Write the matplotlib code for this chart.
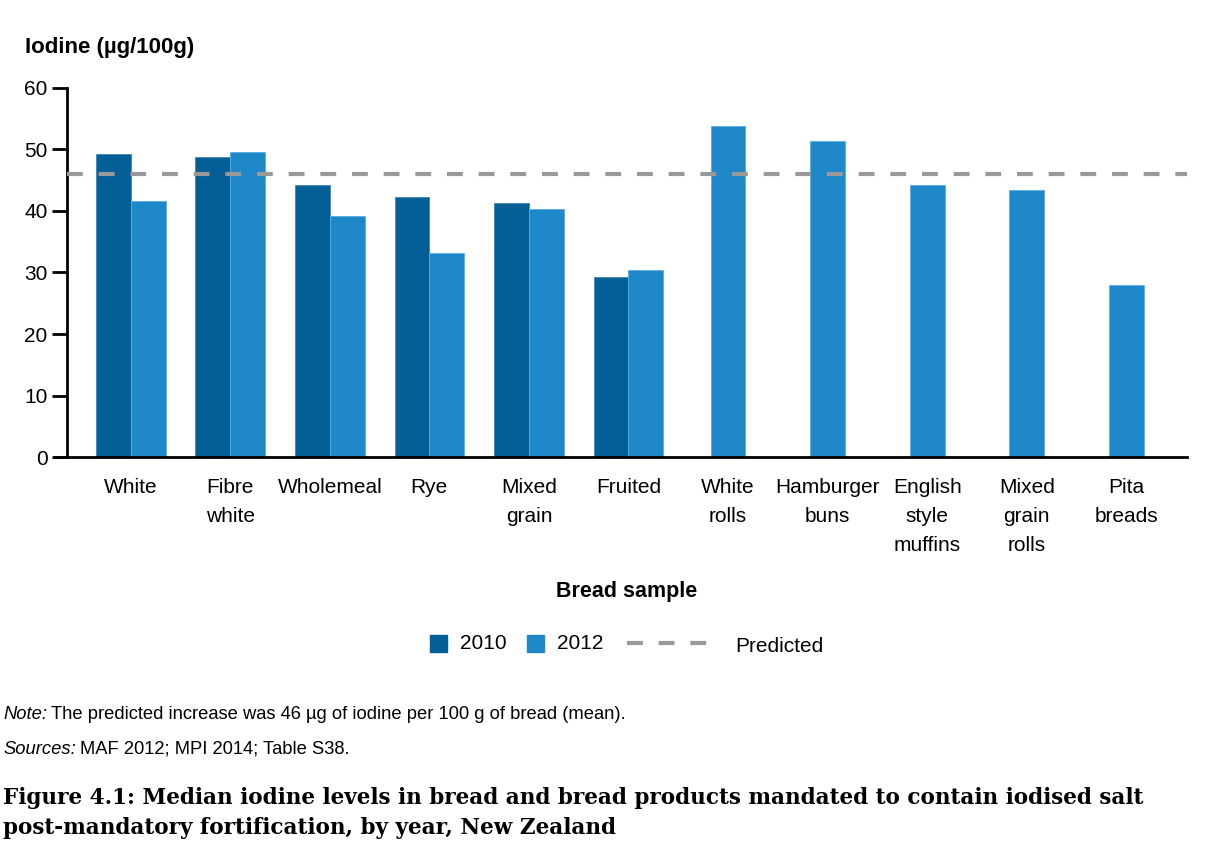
import matplotlib
matplotlib.use("Agg")
import matplotlib.pyplot as plt
from matplotlib.patches import Rectangle
from matplotlib.lines import Line2D

categories = ["White", "Fibre\nwhite", "Wholemeal", "Rye", "Mixed\ngrain", "Fruited",
              "White\nrolls", "Hamburger\nbuns", "English\nstyle\nmuffins",
              "Mixed\ngrain\nrolls", "Pita\nbreads"]
iodine_2010 = [49.3, 48.8, 44.2, 42.3, 41.3, 29.3, None, None, None, None, None]
iodine_2012 = [41.6, 49.6, 39.2, 33.2, 40.3, 30.4, 53.8, 51.4, 44.2, 43.4, 28.0]
predicted = 46

c2010 = "#045f96"
c2012 = "#1f88c9"
grey = "#999999"
sans = ["Liberation Sans", "DejaVu Sans"]

plt.rcParams["font.family"] = sans

fig = plt.figure(figsize=(12.24, 8.46), dpi=100)
ax = fig.add_axes([0.0547, 0.4598, 0.9151, 0.4362])

w = 0.35
for i, (a, b) in enumerate(zip(iodine_2010, iodine_2012)):
    if a is None:
        ax.bar(i, b, w, color=c2012, edgecolor="#5aaee0", linewidth=0.6)
    else:
        ax.bar(i - w / 2, a, w, color=c2010, edgecolor="#3d85b5", linewidth=0.6)
        ax.bar(i + w / 2, b, w, color=c2012, edgecolor="#5aaee0", linewidth=0.6)

ax.axhline(predicted, color=grey, lw=3, dashes=(3.8, 3.8), zorder=5)

ax.set_xlim(-0.64, 10.61)
ax.set_ylim(0, 60)
ax.set_yticks(range(0, 61, 10))
ax.set_xticks(range(len(categories)))
ax.set_xticklabels(categories, fontsize=15, linespacing=1.68, va="top")
ax.tick_params(axis="x", length=0, pad=15)
ax.tick_params(axis="y", length=11, width=2, labelsize=15, pad=3)
for s in ["top", "right"]:
    ax.spines[s].set_visible(False)
ax.spines["left"].set_linewidth(2)
ax.spines["bottom"].set_linewidth(2)
ax.plot([-0.0105, 0], [0, 0], transform=ax.transAxes, color="black", lw=2,
        clip_on=False, solid_capstyle="butt")

fig.text(25 / 1224, 1 - 47 / 846, "Iodine (µg/100g)", fontsize=16, fontweight="bold",
         va="center", ha="left")
fig.text(627 / 1224, 1 - 591 / 846, "Bread sample", fontsize=15.5, fontweight="bold",
         va="center", ha="center")

# legend
ly = 1 - 643 / 846
fig.add_artist(Rectangle((430 / 1224, 1 - 652 / 846), 17 / 1224, 17 / 846,
                         transform=fig.transFigure, color=c2010))
fig.text(460 / 1224, ly, "2010", fontsize=15, va="center")
fig.add_artist(Rectangle((527 / 1224, 1 - 652 / 846), 17 / 1224, 17 / 846,
                         transform=fig.transFigure, color=c2012))
fig.text(557 / 1224, ly, "2012", fontsize=15, va="center")
fig.add_artist(Line2D([627 / 1224, 707 / 1224], [ly, ly], transform=fig.transFigure,
                      color=grey, lw=3, dashes=(3.8, 3.8)))
fig.text(735 / 1224, 1 - 646 / 846, "Predicted", fontsize=15, va="center")

# notes: italic lead-in followed by plain text
renderer = fig.canvas.get_renderer()
for lead, body, y in [("Note:", "The predicted increase was 46 µg of iodine per 100 g of bread (mean).", 714),
                      ("Sources:", "MAF 2012; MPI 2014; Table S38.", 749)]:
    t = fig.text(3 / 1224, 1 - y / 846, lead, fontsize=13.2, style="italic", va="center")
    x1 = t.get_window_extent(renderer).x1
    fig.text((x1 + 4) / 1224, 1 - y / 846, body, fontsize=13.2, va="center")

fig.text(3 / 1224, 1 - 798 / 846,
         "Figure 4.1: Median iodine levels in bread and bread products mandated to contain iodised salt",
         fontsize=15.5, fontweight="bold", family=["DejaVu Serif"], va="center")
fig.text(3 / 1224, 1 - 828 / 846,
         "post-mandatory fortification, by year, New Zealand",
         fontsize=15.5, fontweight="bold", family=["DejaVu Serif"], va="center")

fig.savefig("out.png", dpi=100)
